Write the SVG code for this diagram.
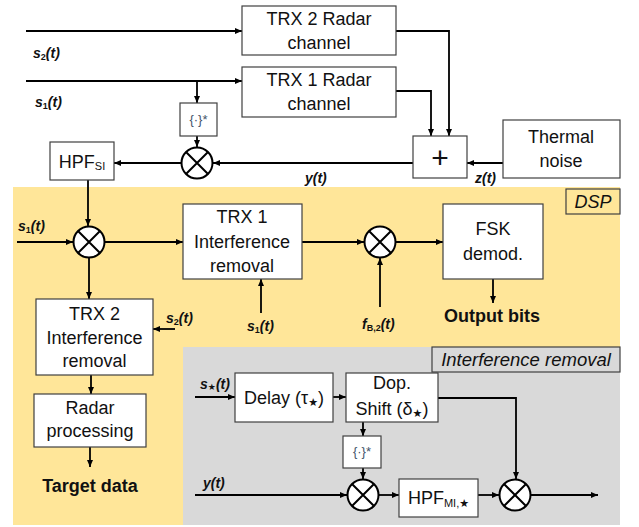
<svg xmlns="http://www.w3.org/2000/svg" width="639" height="527" viewBox="0 0 639 527">
<defs>
<marker id="ar" viewBox="0 0 7 6" refX="7" refY="3" markerWidth="7" markerHeight="6" markerUnits="userSpaceOnUse" orient="auto">
<path d="M0,0 L7,3 L0,6 z" fill="#000"/>
</marker>
<style>
.bx{fill:#fff;stroke:#404040;stroke-width:1.2}
.t{font-family:"Liberation Sans",Arial,sans-serif;font-size:18px;fill:#111;text-anchor:middle}
.plus{font-size:30px}
.lb{font-family:"Liberation Sans",Arial,sans-serif;font-size:14px;font-weight:bold;font-style:italic;fill:#111}
.sub{font-size:9px;font-style:normal}
.bt{font-family:"Liberation Sans",Arial,sans-serif;font-size:18px;font-weight:bold;fill:#111;text-anchor:middle}
.cj{font-family:"Liberation Sans",Arial,sans-serif;font-size:13px;fill:#44546A;text-anchor:middle}
.c{fill:#fff;stroke:#000;stroke-width:2}
.x{stroke:#000;stroke-width:2}
.w{fill:none;stroke:#000;stroke-width:1.8;marker-end:url(#ar)}
.it{font-family:"Liberation Sans",Arial,sans-serif;font-style:italic;fill:#111;text-anchor:middle}
</style>
</defs>
<rect id="dsp-area" x="13" y="187" width="607" height="338" fill="#FFE699"/>
<rect id="ir-area" x="183" y="347" width="437" height="178" fill="#D9D9D9"/>
<g id="dsp-label"><rect x="566" y="189" width="54" height="25" fill="none" stroke="#404040" stroke-width="1.2"/><text class="it" x="593" y="208" font-size="18">DSP</text></g>
<g id="ir-label"><rect x="432" y="347" width="188" height="25" fill="none" stroke="#404040" stroke-width="1.2"/><text class="it" x="526" y="366" font-size="18.5">Interference removal</text></g>

<g id="connectors">
<path class="w" d="M26,31 H242"/>
<path class="w" d="M26,81 H242"/>
<path class="w" d="M197,81 V103"/>
<path class="w" d="M197,136 V147"/>
<path class="w" d="M396,31 H449 V136"/>
<path class="w" d="M396,91 H431 V136"/>
<path class="w" d="M503,163 H467"/>
<path class="w" d="M413,163 H213"/>
<path class="w" d="M181,163 H114"/>
<path class="w" d="M88,180 V226"/>
<path class="w" d="M17,242 H73"/>
<path class="w" d="M105,242 H183"/>
<path class="w" d="M89,258 V299"/>
<path class="w" d="M175,329 H153"/>
<path class="w" d="M261,313 V279"/>
<path class="w" d="M302,242 H364"/>
<path class="w" d="M380,307 V258"/>
<path class="w" d="M396,242 H443"/>
<path class="w" d="M493,279 V303"/>
<path class="w" d="M91,375 V394"/>
<path class="w" d="M90,447 V467"/>
<path class="w" d="M195,397 H235"/>
<path class="w" d="M333,397 H346"/>
<path class="w" d="M363,422 V436"/>
<path class="w" d="M363,468 V479"/>
<path class="w" d="M195,495 H347"/>
<path class="w" d="M379,495 H399"/>
<path class="w" d="M478,495 H499"/>
<path class="w" d="M438,398 H516 V479"/>
<path class="w" d="M531,495 H598"/>
</g>

<g id="trx2-channel"><rect class="bx" x="242" y="6" width="154" height="49"/><text class="t" x="319" y="25">TRX 2 Radar</text><text class="t" x="319" y="49">channel</text></g>
<g id="trx1-channel"><rect class="bx" x="242" y="67" width="154" height="50"/><text class="t" x="319" y="86">TRX 1 Radar</text><text class="t" x="319" y="110">channel</text></g>
<g id="conj-top"><rect class="bx" x="180" y="103" width="37" height="33"/><text class="cj" x="198.5" y="124">{·}*</text></g>
<g id="hpf-si"><rect class="bx" x="50" y="142" width="64" height="38"/><text class="t" x="82" y="168">HPF<tspan font-size="11" dy="2">SI</tspan></text></g>
<g id="adder"><rect class="bx" x="413" y="136" width="54" height="42"/><text class="t plus" x="440" y="168">+</text></g>
<g id="thermal-noise"><rect class="bx" x="503" y="120" width="117" height="58"/><text class="t" x="561" y="143">Thermal</text><text class="t" x="561" y="167">noise</text></g>
<g id="trx1-ir"><rect class="bx" x="183" y="204" width="119" height="75"/><text class="t" x="242" y="223">TRX 1</text><text class="t" x="242" y="248">Interference</text><text class="t" x="242" y="272">removal</text></g>
<g id="fsk"><rect class="bx" x="443" y="204" width="100" height="75"/><text class="t" x="493" y="235">FSK</text><text class="t" x="493" y="260">demod.</text></g>
<g id="trx2-ir"><rect class="bx" x="36" y="299" width="117" height="76"/><text class="t" x="94.5" y="320">TRX 2</text><text class="t" x="94.5" y="344">Interference</text><text class="t" x="94.5" y="367">removal</text></g>
<g id="radar-proc"><rect class="bx" x="34" y="394" width="112" height="53"/><text class="t" x="90" y="414">Radar</text><text class="t" x="90" y="437">processing</text></g>
<g id="delay"><rect class="bx" x="235" y="373" width="98" height="49"/><text class="t" x="284" y="404">Delay (τ<tspan font-family="DejaVu Sans" font-size="11" dy="2">★</tspan><tspan dy="-2">)</tspan></text></g>
<g id="dop"><rect class="bx" x="346" y="373" width="92" height="49"/><text class="t" x="392" y="389">Dop.</text><text class="t" x="392" y="415">Shift (δ<tspan font-family="DejaVu Sans" font-size="11" dy="2">★</tspan><tspan dy="-2">)</tspan></text></g>
<g id="conj-bot"><rect class="bx" x="343" y="436" width="38" height="32"/><text class="cj" x="362" y="456">{·}*</text></g>
<g id="hpf-mi"><rect class="bx" x="399" y="479" width="79" height="38"/><text class="t" x="438.5" y="504">HPF<tspan font-size="11" dy="3">MI,</tspan><tspan font-family="DejaVu Sans" font-size="11">★</tspan></text></g>

<g id="mult1"><circle class="c" cx="197" cy="163" r="15.5"/><path class="x" d="M186,152 L208,174 M208,152 L186,174"/></g>
<g id="mult2"><circle class="c" cx="89" cy="242" r="15.5"/><path class="x" d="M78,231 L100,253 M100,231 L78,253"/></g>
<g id="mult3"><circle class="c" cx="380" cy="242" r="15.5"/><path class="x" d="M369,231 L391,253 M391,231 L369,253"/></g>
<g id="mult4"><circle class="c" cx="363" cy="495" r="15.5"/><path class="x" d="M352,484 L374,506 M374,484 L352,506"/></g>
<g id="mult5"><circle class="c" cx="515" cy="495" r="15.5"/><path class="x" d="M504,484 L526,506 M526,484 L504,506"/></g>

<g id="labels">
<text class="lb" x="33" y="58">s<tspan class="sub" dy="2">2</tspan><tspan dy="-2">(t)</tspan></text>
<text class="lb" x="35" y="107">s<tspan class="sub" dy="2">1</tspan><tspan dy="-2">(t)</tspan></text>
<text class="lb" x="305" y="183">y(t)</text>
<text class="lb" x="475" y="183">z(t)</text>
<text class="lb" x="18" y="231">s<tspan class="sub" dy="2">1</tspan><tspan dy="-2">(t)</tspan></text>
<text class="lb" x="166" y="323">s<tspan class="sub" dy="2">2</tspan><tspan dy="-2">(t)</tspan></text>
<text class="lb" x="247" y="331">s<tspan class="sub" dy="2">1</tspan><tspan dy="-2">(t)</tspan></text>
<text class="lb" x="362" y="329">f<tspan class="sub" dy="2">B,2</tspan><tspan dy="-2">(t)</tspan></text>
<text class="lb" x="200" y="389">s<tspan class="sub" font-family="DejaVu Sans" dy="1">★</tspan><tspan dy="-1">(t)</tspan></text>
<text class="lb" x="203" y="488">y(t)</text>
<text class="bt" x="492" y="322">Output bits</text>
<text class="bt" x="90" y="492">Target data</text>
</g>
</svg>
